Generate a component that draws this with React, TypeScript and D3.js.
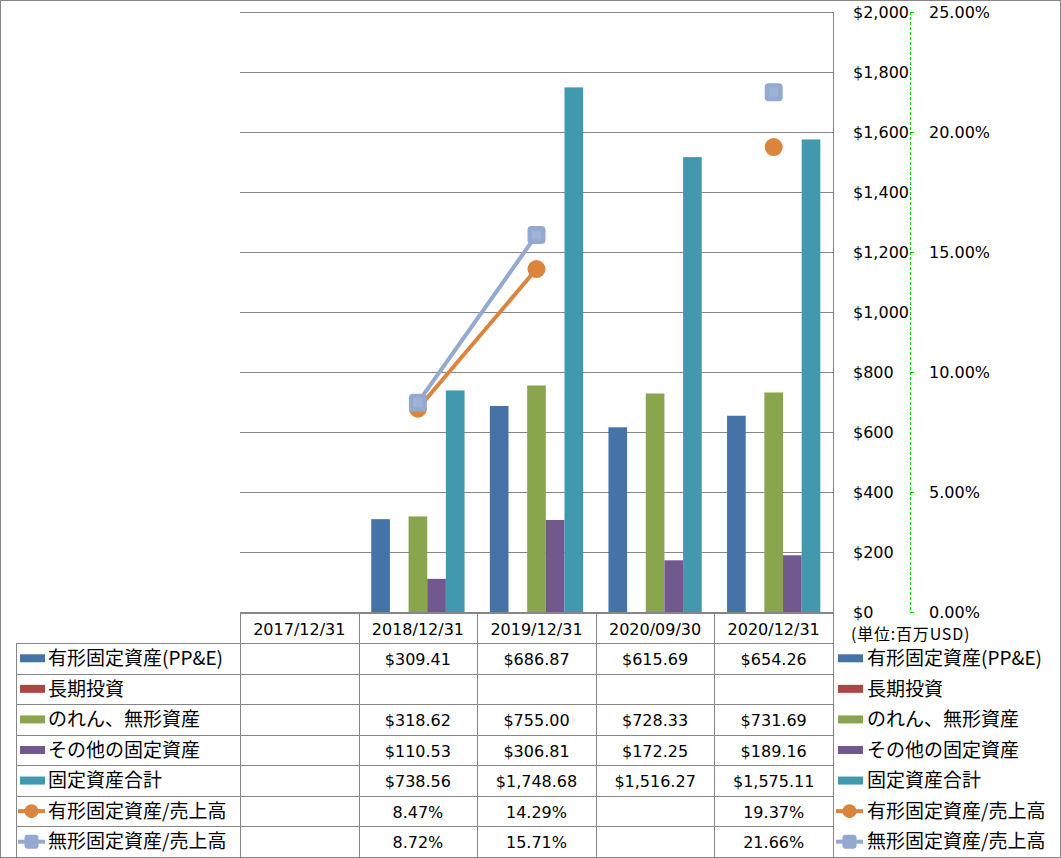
import React from "react";
import * as d3 from "d3";

const categories = ["2017/12/31", "2018/12/31", "2019/12/31", "2020/09/30", "2020/12/31"];
const barSeriesNames = ["有形固定資産(PP&E)", "長期投資", "のれん、無形資産", "その他の固定資産", "固定資産合計"];
const ppe: (number | null)[] = [null, 309.41, 686.87, 615.69, 654.26];
const longInv: (number | null)[] = [null, null, null, null, null];
const goodwill: (number | null)[] = [null, 318.62, 755.0, 728.33, 731.69];
const otherFixed: (number | null)[] = [null, 110.53, 306.81, 172.25, 189.16];
const totalFixed: (number | null)[] = [null, 738.56, 1748.68, 1516.27, 1575.11];
const lineSeriesNames = ["有形固定資産/売上高", "無形固定資産/売上高"];
const ppeRatio: (number | null)[] = [null, 8.47, 14.29, null, 19.37];
const intangRatio: (number | null)[] = [null, 8.72, 15.71, null, 21.66];
const leftTicks = [0, 200, 400, 600, 800, 1000, 1200, 1400, 1600, 1800, 2000];
const rightTicks = [0, 5, 10, 15, 20, 25];
const unitLabel = "(単位:百万USD)";

const barColors = ["#4572A7", "#AA4643", "#89A54E", "#71588F", "#4198AF"];
const lineColors = ["#DB843D", "#93A9CF"];

const W = 1061, H = 858;
const plotL = 240, plotR = 833, plotT = 12, plotB = 612;
const tableTop = 613, headerB = 643, tableB = 857;
const numFont = "'DejaVu Sans', sans-serif";
const cjkFont = "'Noto Sans CJK JP', sans-serif";
const gridColor = "#868686";

export default function App() {
  const barData = [ppe, longInv, goodwill, otherFixed, totalFixed];
  const lineData = [ppeRatio, intangRatio];
  const x = d3.scaleBand<string>().domain(categories).range([plotL, plotR]).padding(0);
  const bw = x.bandwidth();
  const gap = bw * 0.2135;
  const xi = d3.scaleBand<number>().domain(d3.range(5)).range([gap / 2, bw - gap / 2]).padding(0);
  const y = d3.scaleLinear().domain([0, 2000]).range([plotB, plotT]);
  const y2 = d3.scaleLinear().domain([0, 25]).range([plotB, plotT]);
  const line = d3
    .line<number | null>()
    .defined((d) => d != null)
    .x((_, i) => (x(categories[i]) as number) + bw / 2)
    .y((d) => y2(d as number));

  const rowNames = [...barSeriesNames, ...lineSeriesNames];
  const rowH = (tableB - headerB) / rowNames.length;
  const fmtMoney = (v: number | null) => (v == null ? "" : "$" + d3.format(",.2f")(v));
  const fmtPct = (v: number | null) => (v == null ? "" : d3.format(".2f")(v) + "%");
  const rowValues = [
    ...barData.map((s) => s.map(fmtMoney)),
    ...lineData.map((s) => s.map(fmtPct)),
  ];

  const legendSymbol = (i: number, sx: number, cy: number) => {
    if (i < 5) {
      return <rect x={sx} y={cy - 4} width={25} height={8} fill={barColors[i]} />;
    }
    const c = lineColors[i - 5];
    return (
      <g>
        <line x1={sx - 2} x2={sx + 25} y1={cy} y2={cy} stroke={c} strokeWidth={4} />
        {i === 5 ? (
          <circle cx={sx + 11.5} cy={cy} r={7} fill={c} />
        ) : (
          <rect x={sx + 4.5} y={cy - 7} width={14} height={14} rx={3} fill={c} />
        )}
      </g>
    );
  };

  return (
    <div style={{ position: "absolute", left: 0, top: 0 }}>
      <svg width={W} height={H} style={{ display: "block", background: "#fff" }}>
        <rect x={0.5} y={0.5} width={W - 1} height={H - 1} fill="#fff" stroke={gridColor} />
        {/* gridlines */}
        {leftTicks.map((t) => (
          <line key={"g" + t} x1={plotL} x2={plotR} y1={y(t) + 0.5} y2={y(t) + 0.5} stroke={gridColor} strokeWidth={1} />
        ))}
        {/* bars */}
        {barData.map((s, si) =>
          s.map((v, ci) =>
            v == null ? null : (
              <rect
                key={`b${si}-${ci}`}
                x={(x(categories[ci]) as number) + (xi(si) as number)}
                y={y(v)}
                width={xi.bandwidth()}
                height={plotB - y(v)}
                fill={barColors[si]}
              />
            )
          )
        )}
        {/* lines */}
        {lineData.map((s, li) => (
          <path key={"l" + li} d={line(s) || ""} fill="none" stroke={lineColors[li]} strokeWidth={4} />
        ))}
        {lineData[0].map((v, ci) =>
          v == null ? null : (
            <circle key={"c" + ci} cx={(x(categories[ci]) as number) + bw / 2} cy={y2(v)} r={9} fill={lineColors[0]} />
          )
        )}
        {lineData[1].map((v, ci) =>
          v == null ? null : (
            <g key={"s" + ci}>
              <rect x={(x(categories[ci]) as number) + bw / 2 - 9} y={y2(v) - 9} width={18} height={18} rx={4} fill={lineColors[1]} />
              <rect x={(x(categories[ci]) as number) + bw / 2 - 4.5} y={y2(v) - 4.5} width={9} height={9} fill="#9eb3d6" />
            </g>
          )
        )}
        {/* right border of plot / $ axis line */}
        <line x1={plotR + 0.5} x2={plotR + 0.5} y1={plotT} y2={tableB} stroke={gridColor} />
        {/* $ axis labels */}
        {leftTicks.map((t) => (
          <text key={"lt" + t} x={853} y={y(t)} dy="0.35em" fontFamily={numFont} fontSize={16} fill="#000">
            {"$" + d3.format(",")(t)}
          </text>
        ))}
        {/* % axis */}
        <line x1={910.5} x2={910.5} y1={plotT} y2={plotB} stroke="#00d000" strokeDasharray="3,2" strokeWidth={1} />
        {rightTicks.map((t) => (
          <g key={"rt" + t}>
            <line x1={910} x2={914} y1={y2(t) + 0.5} y2={y2(t) + 0.5} stroke="#00d000" />
            <text x={929} y={y2(t)} dy="0.35em" fontFamily={numFont} fontSize={16} fill="#000">
              {d3.format(".2f")(t) + "%"}
            </text>
          </g>
        ))}
        <text x={851} y={634} dy="0.35em" fontFamily={cjkFont} fontSize={16} letterSpacing={0.8} fill="#000">
          {unitLabel}
        </text>
        {/* data table */}
        <line x1={plotL} x2={plotR} y1={tableTop + 0.5} y2={tableTop + 0.5} stroke={gridColor} />
        <line x1={16} x2={plotR} y1={headerB + 0.5} y2={headerB + 0.5} stroke={gridColor} />
        {rowNames.map((_, ri) => (
          <line key={"rl" + ri} x1={16} x2={plotR} y1={Math.round(headerB + rowH * (ri + 1)) + 0.5} y2={Math.round(headerB + rowH * (ri + 1)) + 0.5} stroke={gridColor} />
        ))}
        <line x1={16.5} x2={16.5} y1={headerB} y2={tableB} stroke={gridColor} />
        {categories.map((c) => (
          <line key={"vl" + c} x1={Math.round(x(c) as number) + 0.5} x2={Math.round(x(c) as number) + 0.5} y1={plotB} y2={tableB} stroke={gridColor} />
        ))}
        {categories.map((c) => (
          <text key={"h" + c} x={(x(c) as number) + bw / 2} y={(tableTop + headerB) / 2 + 1} dy="0.35em" textAnchor="middle" fontFamily={numFont} fontSize={16} fill="#000">
            {c}
          </text>
        ))}
        {rowNames.map((name, ri) => {
          const cy = headerB + rowH * (ri + 0.5);
          return (
            <g key={"row" + ri}>
              {legendSymbol(ri, 20, cy)}
              <text x={48} y={cy} dy="0.35em" fontFamily={cjkFont} fontSize={19} fill="#000">
                {name}
              </text>
              {rowValues[ri].map((v, ci) => (
                <text key={"v" + ci} x={(x(categories[ci]) as number) + bw / 2} y={cy + 1} dy="0.35em" textAnchor="middle" fontFamily={numFont} fontSize={16} fill="#000">
                  {v}
                </text>
              ))}
              {legendSymbol(ri, 838, cy)}
              <text x={867} y={cy} dy="0.35em" fontFamily={cjkFont} fontSize={19} fill="#000">
                {name}
              </text>
            </g>
          );
        })}
      </svg>
    </div>
  );
}
